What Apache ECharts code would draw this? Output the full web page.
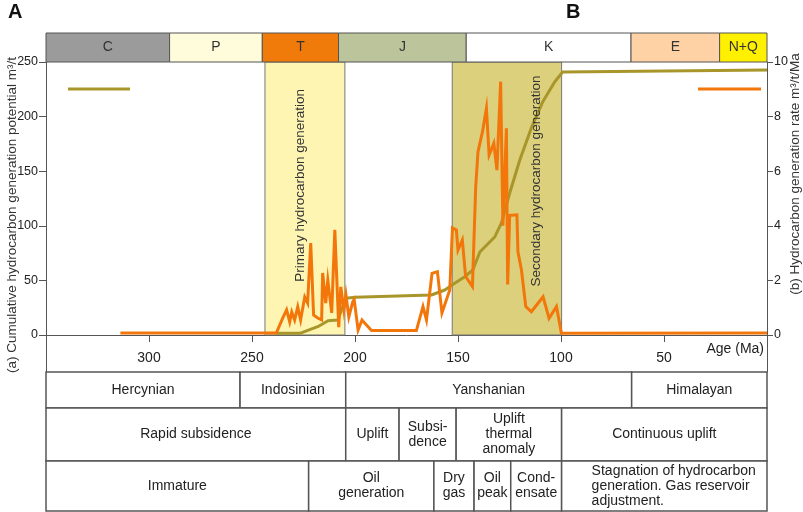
<!DOCTYPE html>
<html><head><meta charset="utf-8">
<script src="https://cdn.jsdelivr.net/npm/echarts@6/dist/echarts.min.js"></script>
<style>html,body{margin:0;padding:0;background:#fff}#c{width:803px;height:512px}</style>
</head><body><div id="c"></div>
<script>
// ---------- data ----------
const periodNames = ['C','P','T','J','K','E','N+Q'];
const periodEdges = [350, 290, 245, 208, 146, 66, 23, 0];

const ageTicks = [300, 250, 200, 150, 100, 50];
const leftTicks = [0, 50, 100, 150, 200, 250];
const rightTicks = [0, 2, 4, 6, 8, 10];

// (b) hydrocarbon generation rate, m3/t/Ma
const rateAges = [313.9, 238.2, 235.1, 233.2, 231.7, 230.7, 229.3, 227.8, 226.4, 224.4, 223.0, 221.5, 220.1, 218.1, 216.2, 215.7, 214.2, 213.2, 211.3, 209.8, 207.9, 206.9, 205.4, 204.4, 203.0, 201.1, 200.4, 198.5, 196.6, 192.0, 170.2, 167.0, 165.3, 162.6, 160.0, 157.8, 154.0, 152.7, 150.8, 150.0, 147.9, 146.3, 143.0, 141.4, 140.3, 138.1, 136.2, 134.9, 132.6, 131.1, 129.3, 128.2, 126.5, 125.9, 124.9, 121.4, 120.9, 119.2, 117.1, 114.4, 108.7, 105.8, 102.2, 99.8, 0];
const rateValues = [0.07, 0.07, 0.62, 0.92, 0.48, 0.84, 0.55, 1.03, 0.55, 1.39, 1.17, 3.37, 0.73, 0.62, 0.55, 2.27, 1.17, 2.01, 0.81, 3.85, 0.29, 1.76, 0.92, 1.47, 0.66, 1.21, 1.3, 0.18, 0.55, 0.16, 0.16, 1.04, 0.55, 2.26, 2.32, 0.81, 1.65, 3.92, 3.85, 3.11, 3.48, 2.14, 1.77, 5.43, 6.71, 7.45, 8.30, 6.59, 7.02, 6.04, 9.28, 4.0, 7.57, 1.85, 4.38, 4.40, 3.05, 2.38, 1.04, 0.85, 1.40, 0.61, 1.04, 0.06, 0.07];

// (a) cumulative hydrocarbon generation potential, m3/t
const cumAges = [238.2, 226.8, 218.1, 213.1, 208.3, 204.5, 200.0, 162.9, 156.4, 151.6, 146.7, 142.8, 139.4, 132.2, 128.9, 124.9, 120.0, 114.4, 108.9, 103.1, 99.2, 0];
const cumValues = [1.5, 1.5, 7.6, 13.1, 13.7, 33.6, 34.5, 36.6, 41.2, 47.3, 53.4, 59.5, 76, 89.7, 102.6, 130, 160.3, 189.6, 213.4, 231.7, 240.8, 242.7];

const primaryBand = [243.7, 204.9];
const secondaryBand = [152.8, 99.7];

const tectonicNames = ['Hercynian', 'Indosinian', 'Yanshanian', 'Himalayan'];
const tectonicEdges = [350, 255.8, 204.5, 65.7, 0];
const evolutionNames = ['Rapid subsidence', 'Uplift', 'Subsi-\ndence', 'Uplift\nthermal\nanomaly', 'Continuous uplift'];
const evolutionEdges = [350, 204.5, 178.6, 150.9, 99.7, 0];
const stageNames = ['Immature', 'Oil\ngeneration', 'Dry\ngas', 'Oil\npeak', 'Cond-\nensate', 'Stagnation of hydrocarbon\ngeneration. Gas reservoir\nadjustment.'];
const stageEdges = [350, 222.5, 161.7, 142.2, 124.4, 99.7, 0];

// ---------- styles / layout ----------
const periodColors = ['#9b9b9b', '#fffcdc', '#f07a0a', '#bcc49b', '#ffffff', '#fed2a4', '#fff000'];
const OLIVE = '#a8962a', ORANGE = '#f2760a';
const FONT = '"Liberation Sans", Arial, sans-serif';
const rowTops = [0, 36, 89, 139];
const BELOW_ZERO_PX = 37; // height of plot area under the zero line

const cells = [];
[[tectonicNames, tectonicEdges], [evolutionNames, evolutionEdges], [stageNames, stageEdges]].forEach(([names, edges], r) => {
  names.forEach((n, i) => cells.push({ value: [edges[i], edges[i + 1], r], name: n }));
});

const chart = echarts.init(document.getElementById('c'), null, { renderer: 'canvas' });

function periodItem(params, api) {
  const a = api.coord([api.value(0), 0]);
  const b = api.coord([api.value(1), 1]);
  const i = params.dataIndex;
  const x = Math.min(a[0], b[0]), w = Math.abs(b[0] - a[0]);
  const y = Math.min(a[1], b[1]), h = Math.abs(b[1] - a[1]);
  return { type: 'group', children: [
    { type: 'rect', shape: { x, y, width: w, height: h }, style: { fill: periodColors[i], stroke: '#555', lineWidth: 1 } },
    { type: 'text', style: { x: x + w / 2, y: y + h / 2, text: periodNames[i], align: 'center', verticalAlign: 'middle', fill: '#333', font: '14px ' + FONT } }
  ] };
}

function cellItem(params, api) {
  const r = api.value(2);
  const a = api.coord([api.value(0), rowTops[r]]);
  const b = api.coord([api.value(1), rowTops[r + 1]]);
  const x = Math.min(a[0], b[0]), w = Math.abs(b[0] - a[0]);
  const y = Math.min(a[1], b[1]), h = Math.abs(b[1] - a[1]);
  const name = cells[params.dataIndex].name;
  const leftAlign = name.indexOf('Stagnation') === 0;
  return { type: 'group', children: [
    { type: 'rect', shape: { x, y, width: w, height: h }, style: { fill: '#fff', stroke: '#555', lineWidth: 1.5 } },
    { type: 'text', style: { x: leftAlign ? x + 30 : x + w / 2, y: y + h / 2, text: name, align: leftAlign ? 'left' : 'center', verticalAlign: 'middle', fill: '#222', font: '14px ' + FONT, lineHeight: 15 } }
  ] };
}

const axisLineStyle = { color: '#555', width: 1 };
const option = {
  animation: false,
  backgroundColor: '#fff',
  legend: [
    { left: 68, top: 87, padding: 0, selectedMode: false, icon: 'rect', itemWidth: 62, itemHeight: 3, data: ['Cumulative hydrocarbon generation potential'], formatter: ' ', textStyle: { fontSize: 4 } },
    { left: 698, top: 87, padding: 0, selectedMode: false, icon: 'rect', itemWidth: 63, itemHeight: 3, data: ['Hydrocarbon generation rate'], formatter: ' ', textStyle: { fontSize: 4 } }
  ],
  grid: [
    { left: 46, right: 36, top: 62, bottom: 140 },
    { left: 46, right: 36, top: 33, height: 29 },
    { left: 46, right: 36, top: 372, height: 139 }
  ],
  xAxis: [
    { gridIndex: 0, type: 'value', min: 0, max: 350, interval: 50, inverse: true,
      position: 'bottom', offset: -BELOW_ZERO_PX,
      axisLine: { show: true, onZero: false, lineStyle: axisLineStyle },
      axisTick: { show: true, length: 7, customValues: ageTicks, lineStyle: axisLineStyle },
      axisLabel: { show: true, fontSize: 14, color: '#222', margin: 16, fontFamily: FONT,
        formatter: v => (ageTicks.indexOf(v) >= 0 ? String(v) : '') },
      splitLine: { show: false } },
    { gridIndex: 1, type: 'value', min: 0, max: 350, inverse: true, show: false },
    { gridIndex: 2, type: 'value', min: 0, max: 350, inverse: true, show: false }
  ],
  yAxis: [
    { gridIndex: 0, type: 'value', min: -33.9, max: 250,
      axisLine: { show: true, onZero: false, lineStyle: axisLineStyle },
      axisTick: { show: true, length: 7, customValues: leftTicks, lineStyle: axisLineStyle },
      axisLabel: { customValues: leftTicks, fontSize: 12.5, color: '#222', margin: 8, fontFamily: FONT },
      splitLine: { show: false } },
    { gridIndex: 0, type: 'value', position: 'right', min: -1.356, max: 10,
      axisLine: { show: true, onZero: false, lineStyle: axisLineStyle },
      axisTick: { show: true, length: 6, customValues: rightTicks, lineStyle: axisLineStyle },
      axisLabel: { customValues: rightTicks, fontSize: 12.5, color: '#222', margin: 7, fontFamily: FONT },
      splitLine: { show: false } },
    { gridIndex: 1, type: 'value', min: 0, max: 1, show: false },
    { gridIndex: 2, type: 'value', min: 0, max: 139, inverse: true, show: false }
  ],
  series: [
    { type: 'line', name: 'bands', xAxisIndex: 0, yAxisIndex: 0, data: [], z: 1, silent: true,
      markArea: { silent: true, data: [
        [{ xAxis: primaryBand[0], yAxis: 0, itemStyle: { color: '#fef5b3', borderColor: '#777', borderWidth: 1 } }, { xAxis: primaryBand[1], yAxis: 250 }],
        [{ xAxis: secondaryBand[0], yAxis: 0, itemStyle: { color: '#dcd07c', borderColor: '#777', borderWidth: 1 } }, { xAxis: secondaryBand[1], yAxis: 250 }]
      ] } },
    { type: 'line', name: 'Cumulative hydrocarbon generation potential', xAxisIndex: 0, yAxisIndex: 0, z: 3,
      data: cumAges.map((a, i) => [a, cumValues[i]]), symbol: 'none', color: OLIVE,
      lineStyle: { color: OLIVE, width: 3 } },
    { type: 'line', name: 'Hydrocarbon generation rate', xAxisIndex: 0, yAxisIndex: 1, z: 4,
      data: rateAges.map((a, i) => [a, rateValues[i]]), symbol: 'none', color: ORANGE,
      lineStyle: { color: ORANGE, width: 3, join: 'miter' } },
    { type: 'custom', xAxisIndex: 1, yAxisIndex: 2, renderItem: periodItem,
      data: periodNames.map((n, i) => [periodEdges[i], periodEdges[i + 1]]), clip: false },
    { type: 'custom', xAxisIndex: 2, yAxisIndex: 3, renderItem: cellItem, data: cells, clip: false }
  ]
};
chart.setOption(option);

const p1 = chart.convertToPixel({ xAxisIndex: 0, yAxisIndex: 0 }, [226.8, 137]);
const p2 = chart.convertToPixel({ xAxisIndex: 0, yAxisIndex: 0 }, [111.8, 141]);
const bandFont = '13.5px ' + FONT;
chart.setOption({
  graphic: [
    { type: 'text', left: 8, top: 2, style: { text: 'A', font: 'bold 20px ' + FONT, fill: '#111' } },
    { type: 'text', left: 566, top: 2, style: { text: 'B', font: 'bold 20px ' + FONT, fill: '#111' } },
    { type: 'text', x: p1[0], y: p1[1], rotation: Math.PI / 2, style: { text: 'Primary hydrocarbon generation', font: bandFont, fill: '#333', align: 'center', verticalAlign: 'middle' }, z: 10 },
    { type: 'text', x: p2[0], y: p2[1], rotation: Math.PI / 2, style: { text: 'Secondary hydrocarbon generation', font: bandFont, fill: '#333', align: 'center', verticalAlign: 'middle' }, z: 10 },
    { type: 'text', x: 12, y: 215, rotation: Math.PI / 2, style: { text: '(a) Cumulative hydrocarbon generation potential m³/t', font: '13.5px ' + FONT, fill: '#333', align: 'center', verticalAlign: 'middle' } },
    { type: 'text', x: 795, y: 174, rotation: Math.PI / 2, style: { text: '(b) Hydrocarbon generation rate m³/t/Ma', font: '13.5px ' + FONT, fill: '#333', align: 'center', verticalAlign: 'middle' } },
    { type: 'text', x: 764, y: 349, style: { text: 'Age (Ma)', font: '14px ' + FONT, fill: '#222', align: 'right', verticalAlign: 'middle' } }
  ]
});
</script></body></html>
